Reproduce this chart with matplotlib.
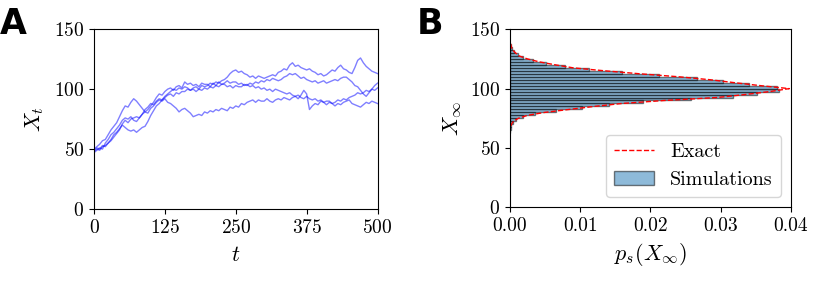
import numpy as np
import matplotlib
matplotlib.use('Agg')
import matplotlib.pyplot as plt

plt.rcParams['font.family'] = 'serif'
plt.rcParams['font.serif'] = ['cmr10', 'DejaVu Serif']
plt.rcParams['mathtext.fontset'] = 'cm'
plt.rcParams['axes.formatter.use_mathtext'] = True
plt.rcParams['axes.unicode_minus'] = False

# sample paths X_t, read every 5 time units from t=0 to t=500
path_1 = [50, 52, 54, 57, 58, 62, 66, 69, 72, 77, 82, 86, 85, 89, 92, 90, 87, 84, 81, 83,
          86, 89, 93, 96, 95, 98, 100, 101, 99, 102, 103, 101, 106, 104, 105, 103, 104, 102, 105, 104,
          104, 102, 105, 103, 106, 104, 105, 107, 105, 106, 106, 104, 105, 103, 104, 102, 103, 101, 102, 100,
          101, 99, 100, 98, 100, 99, 98, 97, 96, 97, 95, 94, 95, 93, 92, 94, 92, 91, 92, 90,
          91, 89, 90, 90, 88, 89, 91, 90, 92, 91, 93, 94, 95, 97, 96, 97, 99, 98, 100, 99, 101]
path_2 = [48, 50, 49, 52, 53, 55, 58, 62, 64, 67, 70, 68, 66, 65, 66, 64, 66, 68, 69, 73,
          78, 82, 86, 88, 91, 93, 95, 96, 94, 97, 96, 98, 98, 100, 99, 101, 102, 100, 103, 102,
          103, 105, 104, 106, 105, 107, 108, 110, 113, 115, 116, 114, 115, 113, 112, 110, 111, 109, 111, 110,
          109, 110, 111, 112, 111, 114, 115, 117, 116, 120, 122, 119, 120, 118, 117, 116, 117, 115, 114, 112,
          113, 111, 112, 114, 116, 115, 118, 120, 117, 116, 114, 113, 118, 124, 126, 122, 119, 117, 115, 114, 113]
path_3 = [47, 49, 51, 50, 55, 58, 62, 64, 67, 70, 74, 76, 75, 77, 74, 73, 76, 79, 83, 85,
          88, 87, 90, 92, 91, 94, 96, 98, 100, 99, 101, 100, 102, 101, 99, 100, 98, 100, 99, 101,
          100, 102, 101, 103, 102, 104, 104, 102, 103, 101, 103, 102, 102, 104, 103, 105, 104, 106, 105, 107,
          106, 108, 107, 109, 108, 107, 108, 110, 111, 113, 112, 113, 111, 109, 110, 108, 107, 106, 107, 105,
          106, 107, 105, 106, 107, 108, 107, 109, 110, 110, 108, 106, 103, 102, 99, 96, 94, 97, 100, 103, 105]
path_4 = [49, 51, 50, 53, 52, 55, 57, 60, 63, 66, 71, 74, 72, 75, 76, 77, 76, 79, 81, 80,
          84, 86, 89, 91, 90, 92, 89, 88, 86, 84, 81, 83, 84, 82, 80, 77, 78, 79, 78, 81,
          80, 82, 81, 83, 82, 84, 83, 82, 85, 84, 86, 85, 88, 87, 89, 90, 91, 89, 91, 90,
          90, 92, 90, 89, 91, 92, 91, 93, 92, 91, 93, 94, 92, 95, 99, 96, 83, 86, 88, 87,
          90, 89, 87, 89, 88, 86, 88, 87, 89, 90, 91, 88, 87, 86, 85, 87, 89, 88, 90, 89, 88]
paths = [path_1, path_2, path_3, path_4]

# stationary density: simulated histogram (bin centres, density)
hist_x = [63.75, 66.25, 68.75, 71.25, 73.75, 76.25, 78.75, 81.25, 83.75, 86.25,
          88.75, 91.25, 93.75, 96.25, 98.75, 101.25, 103.75, 106.25, 108.75, 111.25,
          113.75, 116.25, 118.75, 121.25, 123.75, 126.25, 128.75, 131.25, 133.75, 136.25]
hist_p = [0.0000, 0.0001, 0.0002, 0.0004, 0.0009, 0.0019, 0.0036, 0.0066, 0.0102, 0.0141,
          0.0190, 0.0258, 0.0318, 0.0352, 0.0383, 0.0380, 0.0340, 0.0303, 0.0266, 0.0212,
          0.0160, 0.0112, 0.0078, 0.0052, 0.0033, 0.0019, 0.0011, 0.0006, 0.0003, 0.0001]
bin_width = 2.5

# exact stationary density
exact_x = [62.5, 65, 67.5, 70, 72.5, 75, 77.5, 80, 82.5, 85, 87.5, 90, 92.5, 95, 97.5, 100,
           102.5, 105, 107.5, 110, 112.5, 115, 117.5, 120, 122.5, 125, 127.5, 130, 132.5, 135, 137.5, 140]
exact_p = [0.0, 0.0, 0.0001, 0.0002, 0.0005, 0.0012, 0.0025, 0.0050, 0.0085, 0.0120, 0.0160, 0.0220,
           0.0295, 0.0335, 0.0370, 0.0398, 0.0357, 0.0320, 0.0285, 0.0240, 0.0185, 0.0135, 0.0090,
           0.0065, 0.0042, 0.0025, 0.0013, 0.0008, 0.0004, 0.0002, 0.0001, 0.0]

fig = plt.figure(figsize=(8.31, 2.91), dpi=100)
ax1 = fig.add_axes([0.1131, 0.2818, 0.3412, 0.6178])
ax2 = fig.add_axes([0.6137, 0.2876, 0.3378, 0.6118])

# panel A: sample paths
for p in paths:
    t = np.linspace(0, 500, len(p))
    ax1.plot(t, p, color='b', alpha=0.5, lw=1)
ax1.set_xlim(0, 500)
ax1.set_ylim(0, 150)
ax1.set_xticks([0, 125, 250, 375, 500])
ax1.set_yticks([0, 50, 100, 150])
ax1.set_xlabel('$t$', fontsize=16, labelpad=6)
ax1.set_ylabel('$X_t$', fontsize=16, labelpad=6)
ax1.tick_params(labelsize=14)

# panel B: stationary distribution
ax2.plot(exact_p, exact_x, 'r--', lw=1, label='Exact')
ax2.barh(hist_x, hist_p, height=bin_width, color='C0', alpha=0.5,
         edgecolor='k', label='Simulations')
ax2.set_xlim(0, 0.04)
ax2.set_ylim(0, 150)
ax2.set_xticks([0, 0.01, 0.02, 0.03, 0.04])
ax2.set_xticklabels(['0.00', '0.01', '0.02', '0.03', '0.04'])
ax2.set_yticks([0, 50, 100, 150])
ax2.set_xlabel(r'$p_s(X_\infty)$', fontsize=16, labelpad=4)
ax2.set_ylabel(r'$X_\infty$', fontsize=16, labelpad=4)
ax2.tick_params(labelsize=14)
ax2.legend(loc='lower right', fontsize=14.5)

fig.text(0.0, 0.975, 'A', fontsize=25, fontweight='bold', family='DejaVu Sans', va='top')
fig.text(0.502, 0.975, 'B', fontsize=25, fontweight='bold', family='DejaVu Sans', va='top')

fig.savefig('out.png', dpi=100)
